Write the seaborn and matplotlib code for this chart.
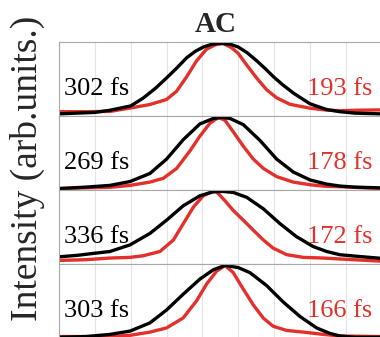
import matplotlib
matplotlib.use('Agg')
import numpy as np
import pandas as pd
import matplotlib.pyplot as plt
from matplotlib.font_manager import FontProperties
import seaborn as sns

# Normalized autocorrelation traces (delay in fs)
black_x1 = [-900, -800, -700, -616, -500, -430, -360, -300, -250, -188, -140, -95, -45, 7, 55, 100, 150, 202, 250, 299, 350, 407, 450, 500, 593, 667, 750, 890]
black_y1 = [0.02, 0.03, 0.04, 0.07, 0.13, 0.24, 0.38, 0.52, 0.64, 0.80, 0.89, 0.95, 0.99, 1.0, 0.99, 0.95, 0.87, 0.76, 0.65, 0.53, 0.42, 0.31, 0.24, 0.16, 0.08, 0.05, 0.03, 0.02]
red_x1 = [-900, -750, -616, -504, -393, -300, -244, -188, -132, -77, -21, 16, 63, 100, 147, 202, 258, 314, 388, 500, 593, 667, 750, 890]
red_y1 = [0.05, 0.05, 0.054, 0.10, 0.15, 0.22, 0.335, 0.536, 0.76, 0.92, 0.99, 1.0, 0.94, 0.86, 0.70, 0.52, 0.356, 0.243, 0.153, 0.099, 0.072, 0.063, 0.07, 0.075]

black_x2 = [-900, -750, -616, -504, -393, -300, -207, -114, -39, 7, 54, 128, 221, 314, 407, 500, 593, 667, 750, 890]
black_y2 = [0.01, 0.03, 0.054, 0.108, 0.22, 0.42, 0.69, 0.91, 0.986, 1.0, 0.986, 0.90, 0.68, 0.42, 0.24, 0.13, 0.072, 0.045, 0.03, 0.02]
red_x2 = [-900, -750, -616, -504, -393, -318, -244, -169, -114, -58, -11, 26, 72, 128, 184, 240, 314, 407, 500, 593, 667, 890]
red_y2 = [0.01, 0.02, 0.027, 0.054, 0.10, 0.153, 0.29, 0.536, 0.74, 0.92, 1.0, 0.96, 0.80, 0.60, 0.42, 0.29, 0.176, 0.10, 0.063, 0.04, 0.036, 0.01]

black_x3 = [-900, -800, -700, -616, -504, -393, -300, -207, -114, -39, 16, 72, 147, 240, 332, 425, 518, 593, 667, 750, 890]
black_y3 = [0.09, 0.11, 0.14, 0.164, 0.256, 0.415, 0.60, 0.80, 0.94, 0.995, 1.0, 0.986, 0.918, 0.758, 0.553, 0.37, 0.233, 0.164, 0.119, 0.10, 0.07]
red_x3 = [-900, -750, -616, -504, -430, -337, -262, -207, -151, -95, -45, -21, 26, 72, 128, 184, 240, 295, 370, 463, 574, 667, 890]
red_y3 = [0.04, 0.05, 0.073, 0.082, 0.105, 0.164, 0.324, 0.55, 0.78, 0.94, 1.0, 0.995, 0.87, 0.735, 0.60, 0.46, 0.324, 0.21, 0.12, 0.082, 0.073, 0.06, 0.03]

black_x4 = [-900, -750, -616, -504, -393, -300, -207, -114, -39, 26, 100, 165, 258, 351, 444, 537, 611, 667, 750, 890]
black_y4 = [0.0, 0.01, 0.04, 0.086, 0.20, 0.38, 0.60, 0.81, 0.94, 1.0, 0.97, 0.90, 0.72, 0.49, 0.29, 0.13, 0.054, 0.018, 0.0, 0.0]
red_x4 = [-900, -750, -616, -504, -393, -300, -207, -132, -77, -21, 26, 72, 128, 184, 240, 295, 370, 463, 574, 667, 890]
red_y4 = [0.01, 0.01, 0.01, 0.027, 0.072, 0.13, 0.27, 0.51, 0.74, 0.92, 1.0, 0.90, 0.67, 0.45, 0.266, 0.153, 0.095, 0.072, 0.04, 0.018, 0.01]

black_labels = ['302 fs', '269 fs', '336 fs', '303 fs']
red_labels = ['193 fs', '178 fs', '172 fs', '166 fs']

black_x = [black_x1, black_x2, black_x3, black_x4]
black_y = [black_y1, black_y2, black_y3, black_y4]
red_x = [red_x1, red_x2, red_x3, red_x4]
red_y = [red_y1, red_y2, red_y3, red_y4]

sns.set_style('white')
plt.rcParams['font.family'] = ['Liberation Serif', 'DejaVu Serif']

FONT_DIR = '/usr/share/fonts/truetype/liberation/'
serif_fp = FontProperties(fname=FONT_DIR + 'LiberationSerif-Regular.ttf')
serif_bold_fp = FontProperties(fname=FONT_DIR + 'LiberationSerif-Bold.ttf')

RED = '#e3302a'
GRAY = '#a8a8a8'

fig = plt.figure(figsize=(3.8, 3.37), dpi=100)
left = 59 / 380
width = 322.7 / 380
panel_h = 74 / 337

axes = []
for i in range(4):
    bottom = (337 - 42 - 74 * (i + 1)) / 337
    ax = fig.add_axes([left, bottom, width, panel_h])
    axes.append(ax)

for i, ax in enumerate(axes):
    sns.lineplot(x=red_x[i], y=red_y[i], color=RED, lw=2.4, ax=ax,
                 solid_joinstyle='round')
    sns.lineplot(x=black_x[i], y=black_y[i], color='black', lw=2.4, ax=ax,
                 solid_joinstyle='round')
    ax.set_xlim(-900, 900)
    ax.set_ylim(-0.01, 1.02)
    ax.set_xticks(np.arange(-900, 901, 200))
    ax.set_yticks([])
    ax.set_xticklabels([])
    ax.grid(axis='x', color='#e4e4e4', lw=0.8)
    ax.set_axisbelow(True)
    for s in ax.spines.values():
        s.set_color(GRAY)
        s.set_linewidth(0.8)
    if i < 3:
        ax.tick_params(axis='x', length=0)
    else:
        ax.tick_params(axis='x', direction='in', length=3, color=GRAY, width=0.8)
    ax.set_xlabel('')
    ax.set_ylabel('')
    ax.text(0.016, 0.288, black_labels[i], transform=ax.transAxes,
            fontproperties=serif_fp, size=19,
            ha='left', va='baseline', color='black')
    ax.text(0.970, 0.288, red_labels[i], transform=ax.transAxes,
            fontproperties=serif_fp, size=19,
            ha='right', va='baseline', color=RED)

fig.text(216 / 380, (337 - 32) / 337, 'AC', ha='center', va='baseline',
         fontproperties=serif_bold_fp, size=21)
fig.text(27 / 380, 0.5, 'Intensity (arb.units.)', rotation=90,
         fontproperties=serif_fp, size=27, ha='center', va='center')

fig.savefig('out.png', dpi=100)
